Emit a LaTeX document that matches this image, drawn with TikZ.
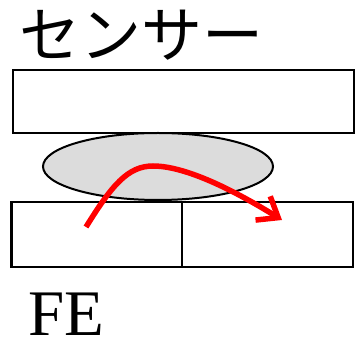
\documentclass[tikz,border=0pt]{standalone}
\usepackage{fontspec}
\setmainfont{Liberation Serif}
\newfontfamily\cjk{Noto Sans CJK JP}
\usetikzlibrary{arrows.meta,shapes.geometric}
\definecolor{lensgray}{HTML}{DCDCDC}
\begin{document}
\begin{tikzpicture}[x=1pt,y=-1pt,
  box/.style={draw=black,line width=2.5pt,rectangle,inner sep=0pt},
  lens/.style={draw=black,line width=2pt,ellipse,fill=lensgray,inner sep=0pt,minimum width=230pt,minimum height=67pt},
  flow/.style={red,line width=5.5pt,-{Straight Barb[length=18pt,width=28pt,line cap=butt]}},
  lbl/.style={inner sep=0pt,text=black}]
\useasboundingbox (0,0) rectangle (357,344);
\node[lbl,font=\cjk\fontsize{61}{62}\selectfont] (title) at (141.5,35) {センサー};
\node[box,minimum width=341pt,minimum height=63pt] (sensor) at (183.5,101.5) {};
\node[box,minimum width=170.5pt,minimum height=65pt] (feL) at (96.75,234.5) {};
\node[box,minimum width=171pt,minimum height=65pt] (feR) at (267.5,234.5) {};
\node[lens] (drop) at (158,166.5) {};
\node[lbl,font=\fontsize{65}{66}\selectfont,anchor=base west,text depth=0pt] (fe) at (28,336) {FE};
\coordinate (s) at (86,227);
\coordinate (p) at (153,166);
\coordinate (e) at (282,220);
\draw[flow] (s) .. controls (112,185) and (128,166) .. (p) .. controls (188,166) and (240,194) .. (e);
\end{tikzpicture}
\end{document}
